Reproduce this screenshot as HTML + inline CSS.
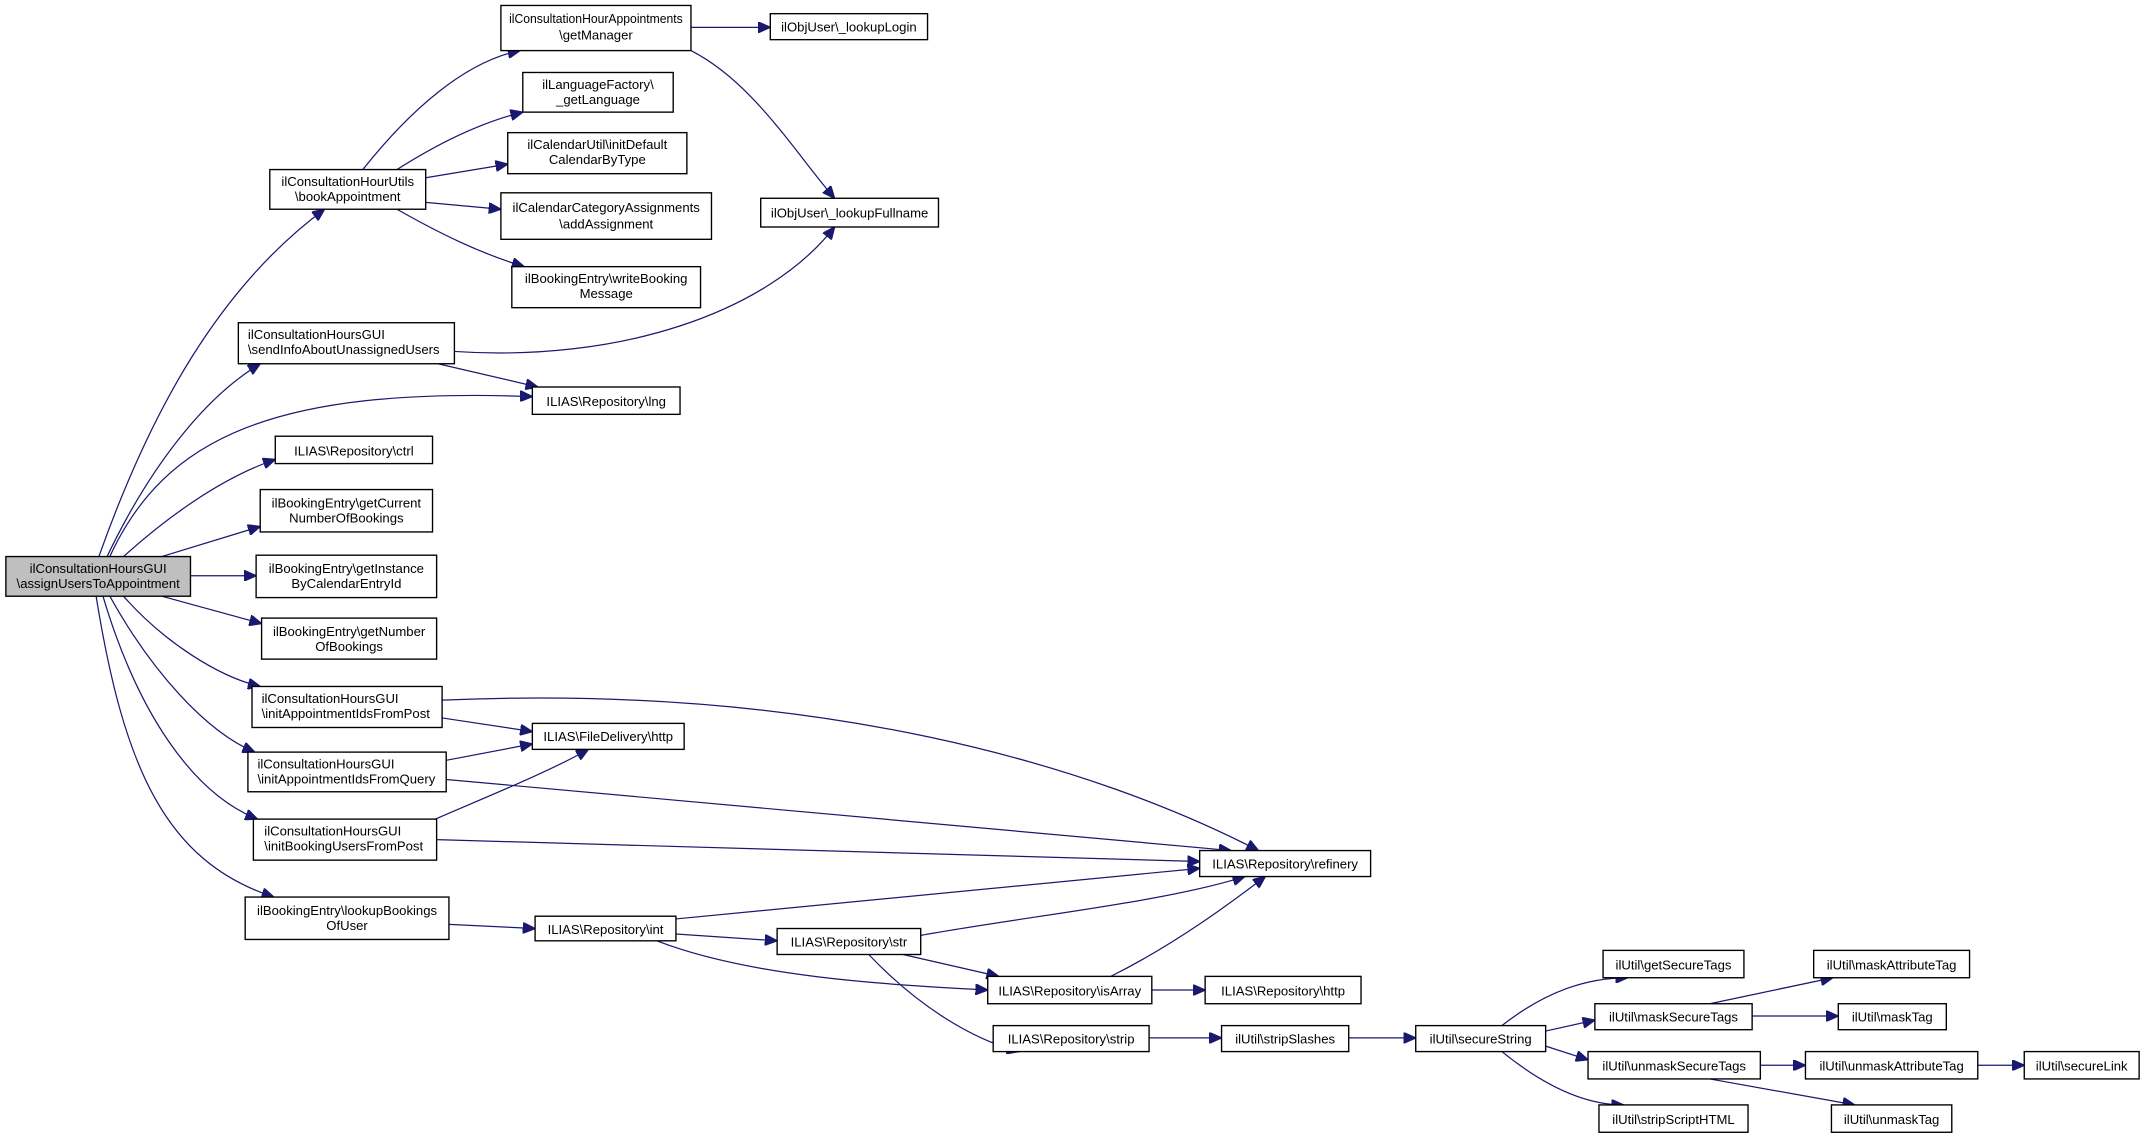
<!DOCTYPE html>
<html><head><meta charset="utf-8">
<style>
html,body{margin:0;padding:0;background:#fff;}
svg{display:block;}
text{font-family:"Liberation Sans",Arial,sans-serif;font-size:9.6px;fill:#000;}
.n{fill:#fff;stroke:#000;stroke-width:1;}
.e{fill:none;stroke:#191970;stroke-width:0.9;}
</style></head><body>
<svg width="2145" height="1135" viewBox="0 0 1568 830" xmlns="http://www.w3.org/2000/svg">
<defs><marker id="a" markerUnits="userSpaceOnUse" markerWidth="10" markerHeight="8" refX="9" refY="4" orient="auto"><path d="M0,0 L9,4 L0,8 z" fill="#191970" stroke="#191970"/></marker></defs>
<g class="edges">
<path class="e" marker-end="url(#a)" d="M72,407 C110,300 160,210 237,153"/>
<path class="e" marker-end="url(#a)" d="M78,407 C110,340 150,290 190,266"/>
<path class="e" marker-end="url(#a)" d="M80,407 C120,320 200,283 389,290"/>
<path class="e" marker-end="url(#a)" d="M90,407 C120,380 160,350 201,336"/>
<path class="e" marker-end="url(#a)" d="M118,407 L190,385"/>
<path class="e" marker-end="url(#a)" d="M139,421 L187,421"/>
<path class="e" marker-end="url(#a)" d="M118,436 L191,456"/>
<path class="e" marker-end="url(#a)" d="M90,436 C120,470 160,495 190,502"/>
<path class="e" marker-end="url(#a)" d="M80,436 C110,490 150,535 186,550"/>
<path class="e" marker-end="url(#a)" d="M75,436 C100,520 140,580 188,599"/>
<path class="e" marker-end="url(#a)" d="M70,436 C90,560 120,630 200,656"/>
<path class="e" marker-end="url(#a)" d="M265,124 C300,80 340,45 380,37"/>
<path class="e" marker-end="url(#a)" d="M290,124 C320,105 350,90 382,82"/>
<path class="e" marker-end="url(#a)" d="M311,130 L371,120"/>
<path class="e" marker-end="url(#a)" d="M311,148 L366,153"/>
<path class="e" marker-end="url(#a)" d="M290,153 C320,170 350,185 383,195"/>
<path class="e" marker-end="url(#a)" d="M505,20 L563,20"/>
<path class="e" marker-end="url(#a)" d="M505,37 C550,60 580,110 610,145"/>
<path class="e" marker-end="url(#a)" d="M332,257 C450,265 560,230 610,166"/>
<path class="e" marker-end="url(#a)" d="M320,266 L393,283"/>
<path class="e" marker-end="url(#a)" d="M323,525 L389,535"/>
<path class="e" marker-end="url(#a)" d="M323,512 C600,500 800,560 920,622"/>
<path class="e" marker-end="url(#a)" d="M326,570 L900,622"/>
<path class="e" marker-end="url(#a)" d="M326,556 L389,544"/>
<path class="e" marker-end="url(#a)" d="M318,599 C350,585 400,565 430,548"/>
<path class="e" marker-end="url(#a)" d="M319,614 L877,630"/>
<path class="e" marker-end="url(#a)" d="M328,676 L391,679"/>
<path class="e" marker-end="url(#a)" d="M494,672 L877,635"/>
<path class="e" marker-end="url(#a)" d="M494,683 L568,688"/>
<path class="e" marker-end="url(#a)" d="M480,688 C550,715 650,720 722,724"/>
<path class="e" marker-end="url(#a)" d="M673,684 C750,670 850,660 910,641"/>
<path class="e" marker-end="url(#a)" d="M660,698 L730,714"/>
<path class="e" marker-end="url(#a)" d="M635,698 C670,735 710,760 745,769"/>
<path class="e" marker-end="url(#a)" d="M812,714 C860,690 900,660 925,641"/>
<path class="e" marker-end="url(#a)" d="M842,724 L881,724"/>
<path class="e" marker-end="url(#a)" d="M840,759 L893,759"/>
<path class="e" marker-end="url(#a)" d="M986,759 L1035,759"/>
<path class="e" marker-end="url(#a)" d="M1098,750 C1130,725 1160,715 1190,715"/>
<path class="e" marker-end="url(#a)" d="M1130,754 L1166,746"/>
<path class="e" marker-end="url(#a)" d="M1130,765 L1161,775"/>
<path class="e" marker-end="url(#a)" d="M1098,769 C1130,795 1160,808 1187,808"/>
<path class="e" marker-end="url(#a)" d="M1250,734 L1340,715"/>
<path class="e" marker-end="url(#a)" d="M1281,743 L1344,743"/>
<path class="e" marker-end="url(#a)" d="M1287,779 L1320,779"/>
<path class="e" marker-end="url(#a)" d="M1250,789 L1356,808"/>
<path class="e" marker-end="url(#a)" d="M1446,779 L1480,779"/>
</g>
<g class="nodes">
<rect x="4" y="407" width="135" height="29" fill="#bfbfbf" stroke="#000"/>
<text x="71.5" y="419" text-anchor="middle">ilConsultationHoursGUI</text>
<text x="71.5" y="430" text-anchor="middle">\assignUsersToAppointment</text>

<rect class="n" x="197" y="124" width="114" height="29"/>
<text x="254" y="136" text-anchor="middle">ilConsultationHourUtils</text>
<text x="254" y="147" text-anchor="middle">\bookAppointment</text>

<rect class="n" x="366" y="4" width="139" height="33"/>
<text x="435.5" y="17" text-anchor="middle">ilConsultationHourAppointments</text>
<text x="435.5" y="29" text-anchor="middle">\getManager</text>

<rect class="n" x="563" y="10" width="115" height="19"/>
<text x="620.5" y="23" text-anchor="middle">ilObjUser\_lookupLogin</text>

<rect class="n" x="382" y="53" width="110" height="29"/>
<text x="437" y="65" text-anchor="middle">ilLanguageFactory\</text>
<text x="437" y="76" text-anchor="middle">_getLanguage</text>

<rect class="n" x="371" y="97" width="131" height="30"/>
<text x="436.5" y="109" text-anchor="middle">ilCalendarUtil\initDefault</text>
<text x="436.5" y="120" text-anchor="middle">CalendarByType</text>

<rect class="n" x="366" y="141" width="154" height="34"/>
<text x="443" y="155" text-anchor="middle">ilCalendarCategoryAssignments</text>
<text x="443" y="167" text-anchor="middle">\addAssignment</text>

<rect class="n" x="374" y="195" width="138" height="30"/>
<text x="443" y="207" text-anchor="middle">ilBookingEntry\writeBooking</text>
<text x="443" y="218" text-anchor="middle">Message</text>

<rect class="n" x="556" y="145" width="130" height="21"/>
<text x="621" y="159" text-anchor="middle">ilObjUser\_lookupFullname</text>

<rect class="n" x="174" y="236" width="158" height="30"/>
<text x="181" y="248">ilConsultationHoursGUI</text>
<text x="181" y="259">\sendInfoAboutUnassignedUsers</text>

<rect class="n" x="389" y="283" width="108" height="20"/>
<text x="443" y="297" text-anchor="middle">ILIAS\Repository\lng</text>

<rect class="n" x="201" y="319" width="115" height="20"/>
<text x="258.5" y="333" text-anchor="middle">ILIAS\Repository\ctrl</text>

<rect class="n" x="190" y="358" width="126" height="31"/>
<text x="253" y="371" text-anchor="middle">ilBookingEntry\getCurrent</text>
<text x="253" y="382" text-anchor="middle">NumberOfBookings</text>

<rect class="n" x="187" y="406" width="132" height="31"/>
<text x="253" y="419" text-anchor="middle">ilBookingEntry\getInstance</text>
<text x="253" y="430" text-anchor="middle">ByCalendarEntryId</text>

<rect class="n" x="191" y="452" width="128" height="30"/>
<text x="255" y="465" text-anchor="middle">ilBookingEntry\getNumber</text>
<text x="255" y="476" text-anchor="middle">OfBookings</text>

<rect class="n" x="184" y="502" width="139" height="30"/>
<text x="191" y="514">ilConsultationHoursGUI</text>
<text x="191" y="525">\initAppointmentIdsFromPost</text>

<rect class="n" x="389" y="529" width="111" height="19"/>
<text x="444.5" y="542" text-anchor="middle">ILIAS\FileDelivery\http</text>

<rect class="n" x="181" y="550" width="145" height="29"/>
<text x="188" y="562">ilConsultationHoursGUI</text>
<text x="188" y="573">\initAppointmentIdsFromQuery</text>

<rect class="n" x="185" y="599" width="134" height="30"/>
<text x="193" y="611">ilConsultationHoursGUI</text>
<text x="193" y="622">\initBookingUsersFromPost</text>

<rect class="n" x="179" y="656" width="149" height="31"/>
<text x="253.5" y="669" text-anchor="middle">ilBookingEntry\lookupBookings</text>
<text x="253.5" y="680" text-anchor="middle">OfUser</text>

<rect class="n" x="391" y="670" width="103" height="18"/>
<text x="442.5" y="683" text-anchor="middle">ILIAS\Repository\int</text>

<rect class="n" x="568" y="679" width="105" height="19"/>
<text x="620.5" y="692" text-anchor="middle">ILIAS\Repository\str</text>

<rect class="n" x="877" y="622" width="125" height="19"/>
<text x="939.5" y="635" text-anchor="middle">ILIAS\Repository\refinery</text>

<rect class="n" x="722" y="714" width="120" height="20"/>
<text x="782" y="728" text-anchor="middle">ILIAS\Repository\isArray</text>

<rect class="n" x="881" y="714" width="114" height="20"/>
<text x="938" y="728" text-anchor="middle">ILIAS\Repository\http</text>

<rect class="n" x="726" y="750" width="114" height="19"/>
<text x="783" y="763" text-anchor="middle">ILIAS\Repository\strip</text>

<rect class="n" x="893" y="750" width="93" height="19"/>
<text x="939.5" y="763" text-anchor="middle">ilUtil\stripSlashes</text>

<rect class="n" x="1035" y="750" width="95" height="19"/>
<text x="1082.5" y="763" text-anchor="middle">ilUtil\secureString</text>

<rect class="n" x="1172" y="695" width="103" height="20"/>
<text x="1223.5" y="709" text-anchor="middle">ilUtil\getSecureTags</text>

<rect class="n" x="1166" y="734" width="115" height="19"/>
<text x="1223.5" y="747" text-anchor="middle">ilUtil\maskSecureTags</text>

<rect class="n" x="1161" y="769" width="126" height="20"/>
<text x="1224" y="783" text-anchor="middle">ilUtil\unmaskSecureTags</text>

<rect class="n" x="1169" y="808" width="109" height="20"/>
<text x="1223.5" y="822" text-anchor="middle">ilUtil\stripScriptHTML</text>

<rect class="n" x="1326" y="695" width="114" height="20"/>
<text x="1383" y="709" text-anchor="middle">ilUtil\maskAttributeTag</text>

<rect class="n" x="1344" y="734" width="79" height="19"/>
<text x="1383.5" y="747" text-anchor="middle">ilUtil\maskTag</text>

<rect class="n" x="1320" y="769" width="126" height="20"/>
<text x="1383" y="783" text-anchor="middle">ilUtil\unmaskAttributeTag</text>

<rect class="n" x="1480" y="769" width="84" height="20"/>
<text x="1522" y="783" text-anchor="middle">ilUtil\secureLink</text>

<rect class="n" x="1339" y="808" width="88" height="20"/>
<text x="1383" y="822" text-anchor="middle">ilUtil\unmaskTag</text>
</g>
</svg>
<script>
(function(){
var g=document.querySelectorAll('.nodes rect');
var t=document.querySelectorAll('.nodes text');
t.forEach(function(el){
  var x=parseFloat(el.getAttribute('x')),y=parseFloat(el.getAttribute('y'));
  var best=null;
  g.forEach(function(r){
    var rx=+r.getAttribute('x'),ry=+r.getAttribute('y'),rw=+r.getAttribute('width'),rh=+r.getAttribute('height');
    if(y>ry&&y<ry+rh+2&&x>=rx-1&&x<=rx+rw+1)best=r;
  });
  if(!best)return;
  var avail=+best.getAttribute('width')-12;
  var len=el.getComputedTextLength();
  if(len>avail){el.setAttribute('textLength',avail);el.setAttribute('lengthAdjust','spacingAndGlyphs');
    if(el.getAttribute('text-anchor')!=='middle'){el.setAttribute('x',+best.getAttribute('x')+6);}
  }
});
})();
</script>
</body></html>
